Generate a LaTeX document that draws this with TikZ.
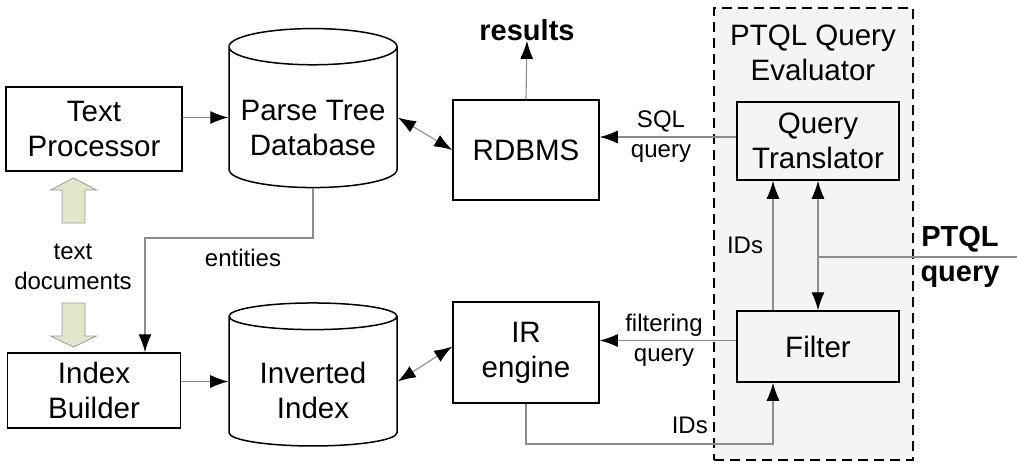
\documentclass[tikz,border=0pt]{standalone}
\usepackage{fontspec}
\setmainfont{Liberation Sans}
\usetikzlibrary{positioning,shapes.geometric,arrows.meta}
\definecolor{docgreen}{RGB}{226,231,204}
\definecolor{evalgray}{RGB}{244,244,244}
\tikzset{>={Latex[length=18pt,width=13pt,color=black]}}
\tikzset{
  box/.style={draw, rectangle, line width=1.5pt, inner sep=0pt, align=center, font=\fontsize{29.5}{35}\selectfont},
  db/.style={draw, cylinder, shape border rotate=90, aspect=0.25, line width=1.5pt, inner sep=0pt, minimum width=168pt, text depth=0pt, align=center, font=\fontsize{29.5}{35}\selectfont},
  conn/.style={draw=black!45, line width=1.1pt},
  lbl/.style={align=center, inner sep=0pt, font=\fontsize{24}{30}\selectfont},
  boldlbl/.style={align=center, inner sep=0pt, font=\fontsize{29}{35}\selectfont\bfseries},
  docarrow/.style={draw=black!40, fill=docgreen, line width=0.8pt},
}

\begin{document}
\begin{tikzpicture}[x=1pt, y=-1pt]
      \useasboundingbox (0,0) rectangle (1017,471);
      % evaluator region
      \node[draw, dashed, dash pattern=on 10pt off 6pt, line width=1.6pt, fill=evalgray, minimum width=199pt, minimum height=452pt] (eval) at (813.5,234) {};
      \node[align=center, inner sep=0pt, font=\fontsize{29.5}{35}\selectfont] (evalt) at (813,53) {PTQL Query\\Evaluator};
      \node[box, minimum width=176pt, minimum height=84pt] (tp) at (94,129) {Text\\Processor};
      \node[box, below of=tp, node distance=261.5pt, minimum width=173pt, minimum height=75pt] (ib) {Index\\Builder};
      \node[db, minimum height=159pt, text height=76pt] (ptdb) at (313,117.5) {Parse Tree\\Database};
      \node[db, below of=ptdb, node distance=264pt, minimum height=143pt, text height=73.5pt] (ii) {Inverted\\Index};
      \node[box, minimum width=146pt, minimum height=100pt] (rdbms) at (526,150) {RDBMS};
      \node[box, below of=rdbms, node distance=202.5pt, minimum width=146pt, minimum height=101pt] (ir) {IR\\engine};
      \node[box, minimum width=162pt, minimum height=78pt] (qt) at (818,141) {Query\\Translator};
      \node[box, below of=qt, node distance=205.5pt, minimum width=162pt, minimum height=71pt] (flt) {Filter};
      \node[boldlbl] (res) at (527,30) {results};
      \node[boldlbl] (ptql) at (960,257) {PTQL\\query};
      % green document arrows
      \draw[docarrow] (62,223) -- (62,190) -- (50.5,190) -- (73.5,178) -- (96.5,190) -- (85,190) -- (85,223) -- cycle;
      \draw[docarrow] (62,303) -- (62,336) -- (50.5,336) -- (73.5,347) -- (96.5,336) -- (85,336) -- (85,303) -- cycle;
      \node[lbl] (docs) at (73,267) {text\\documents};
      \coordinate (ent) at (145,238);
      \coordinate (jn) at (818,257);
      \coordinate (qin) at (1017,257);
      \coordinate (idb) at (773,444);
      \draw[conn, ->] (tp.east |- ptdb.west) -- (ptdb.west);
      \draw[conn, <->] (ptdb.east) -- (rdbms.west);
      \draw[conn, ->] (ptdb.south) |- (ent) -- (ent |- ib.north);
      \node[lbl] at (243,258) {entities};
      \draw[conn, ->] (ib.east |- ii.west) -- (ii.west);
      \draw[conn, <->] (ii.east) -- ([yshift=6pt]ir.west);
      \draw[conn, ->] (rdbms.north) -- (res.south);
      \draw[conn, ->] ([yshift=4pt]qt.west) -- ([yshift=4pt]qt.west -| rdbms.east) node[lbl, midway, xshift=-7pt] {SQL\\query};
      \draw[conn, ->] ([yshift=6pt]flt.west) -- ([yshift=6pt]flt.west -| ir.east) node[lbl, midway, xshift=-4pt] {filtering\\query};
      \draw[conn, ->] ([xshift=-45pt]flt.north) -- node[lbl, midway, xshift=-28pt] {IDs} ([xshift=-45pt]qt.south);
      \draw[conn] (qin) -- (jn);
      \draw[conn, ->] (jn) -- (qt.south);
      \draw[conn, ->] (jn) -- (flt.north);
      \draw[conn, ->] (ir.south) |- (idb) -- (idb |- flt.south);
      \node[lbl, anchor=east] at (708,425) {IDs};
\end{tikzpicture}
\end{document}
